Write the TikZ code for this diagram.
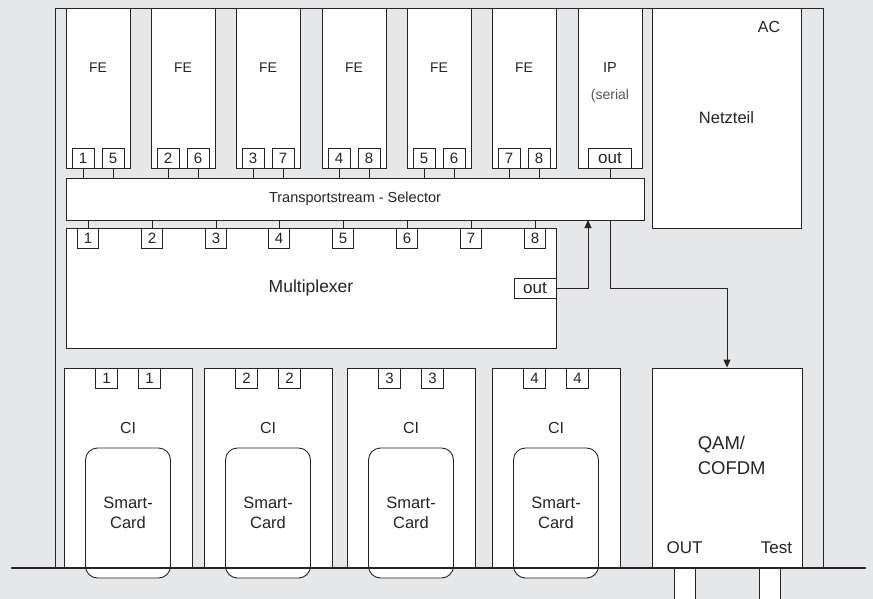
\documentclass[tikz,border=0pt]{standalone}
\usepackage{fontspec}
\setmainfont{Liberation Sans}
\usetikzlibrary{arrows.meta,positioning}
\definecolor{bgGray}{HTML}{E6E7E8}
\definecolor{lnDark}{HTML}{262425}
\definecolor{txGray}{HTML}{555555}
\newcommand{\fsz}[1]{\fontsize{#1}{#1}\selectfont}

\begin{document}
\begin{tikzpicture}[x=1pt, y=-1pt, line width=0.9pt, draw=lnDark, text=lnDark, font=\fsz{14},
  box/.style 2 args={draw=lnDark, fill=white, inner sep=0pt, minimum width=#1, minimum height=#2},
  port/.style={draw=lnDark, fill=white, inner sep=0pt, minimum width=22pt, minimum height=20pt, font=\fsz{15}},
  card/.style={draw=lnDark, fill=white, rounded corners=12pt, inner sep=0pt, minimum width=85pt, minimum height=130pt, align=center, font=\fontsize{16.5}{20}\selectfont},
  wire/.style={draw=lnDark, line width=0.8pt},
  sig/.style={draw=lnDark, line width=0.9pt, -{Triangle[length=8pt,width=7pt]}},
  base/.style={draw=lnDark, line width=2.6pt, line cap=round}
]
\fill[bgGray] (0,0) rectangle (873,599);
\useasboundingbox (0,0) rectangle (873,599);
% chassis
\draw (55,568) -- (55,8) -- (823,8) -- (823,568);
% front ends
\foreach \i/\x/\a/\b in {1/98/1/5, 2/183/2/6, 3/268/3/7, 4/354/4/8, 5/439/5/6, 6/524/7/8}{
  \node[box={64pt}{160pt}] (fe\i) at (\x,88) {};
  \node (fe\i t) at ([yshift=-60pt]fe\i.north) {FE};
  \node[port, anchor=south] (fe\i a) at ([xshift=-15pt]fe\i.south) {\a};
  \node[port, anchor=south] (fe\i b) at ([xshift=15pt]fe\i.south) {\b};
}
\node[box={64pt}{160pt}] (ip) at (610,88) {};
\node[font=\fsz{14.5}] (ipt) at ([yshift=-60pt]ip.north) {IP};
\node[text=txGray] (ips) at ([yshift=-88pt]ip.north) {(serial};
\node[port, anchor=south, minimum width=43pt, font=\fsz{17}] (ipout) at (ip.south) {out};
% selector
\node[box={578pt}{42pt}, font=\fsz{14.5}] (sel) at (355,199) {Transportstream - Selector};
\foreach \i in {1,...,6}{
  \draw[wire] (fe\i a.south) -- (fe\i a.south |- sel.north);
  \draw[wire] (fe\i b.south) -- (fe\i b.south |- sel.north);
}
\draw[wire] (ipout.south) -- (ipout.south |- sel.north);
% power supply
\node[box={149pt}{220pt}, font=\fsz{16.5}] (psu) at (726.5,118) {Netzteil};
\node[font=\fsz{16}] (ac) at (769,27) {AC};
% multiplexer
\node[box={490pt}{120pt}, font=\fsz{17.5}] (mux) at (311,288) {Multiplexer};
\foreach \i/\x in {1/88, 2/152, 3/216, 4/279, 5/343, 6/407, 7/471, 8/535}{
  \node[port, anchor=north, minimum width=21pt] (mp\i) at (\x,228) {\i};
  \draw[wire] (mp\i.north) -- (mp\i.north |- sel.south);
}
\node[port, anchor=east, minimum width=42pt, font=\fsz{17}] (mout) at (mux.east) {out};
% modulator
\node[box={150pt}{199pt}] (qam) at (727,467.5) {};
\node[anchor=west, align=left, font=\fontsize{18.5}{25}\selectfont] (qamt) at (694,455) {QAM/\\COFDM};
\node[font=\fsz{17}] (qout) at (684.5,548) {OUT};
\node[font=\fsz{17}] (qtest) at (776.5,548) {Test};
% signal paths
\coordinate (selin) at (588,220);
\coordinate (selout) at (610,220);
\draw[sig] (mout.east) -| (selin);
\draw[sig] (selout) -- ++(0,68) -| (qam.north);
% common interfaces
\foreach \i/\x in {1/128, 2/268, 3/411, 4/556}{
  \node[box={128pt}{199pt}] (ci\i) at (\x,467.5) {};
  \node[port, anchor=north] (ci\i a) at ([xshift=-21.5pt]ci\i.north) {\i};
  \node[port, anchor=north] (ci\i b) at ([xshift=21.5pt]ci\i.north) {\i};
  \node[font=\fsz{16}] (ci\i t) at ([yshift=-60pt]ci\i.north) {CI};
  \node[card] (sc\i) at (\x,513) {Smart-\\Card};
}
% jacks and base
\node[box={21pt}{32pt}, anchor=north] (jout) at (684.5,568) {};
\node[box={21pt}{32pt}, anchor=north] (jtest) at (769.5,568) {};
\draw[base] (12,568) -- (865,568);
\end{tikzpicture}
\end{document}
